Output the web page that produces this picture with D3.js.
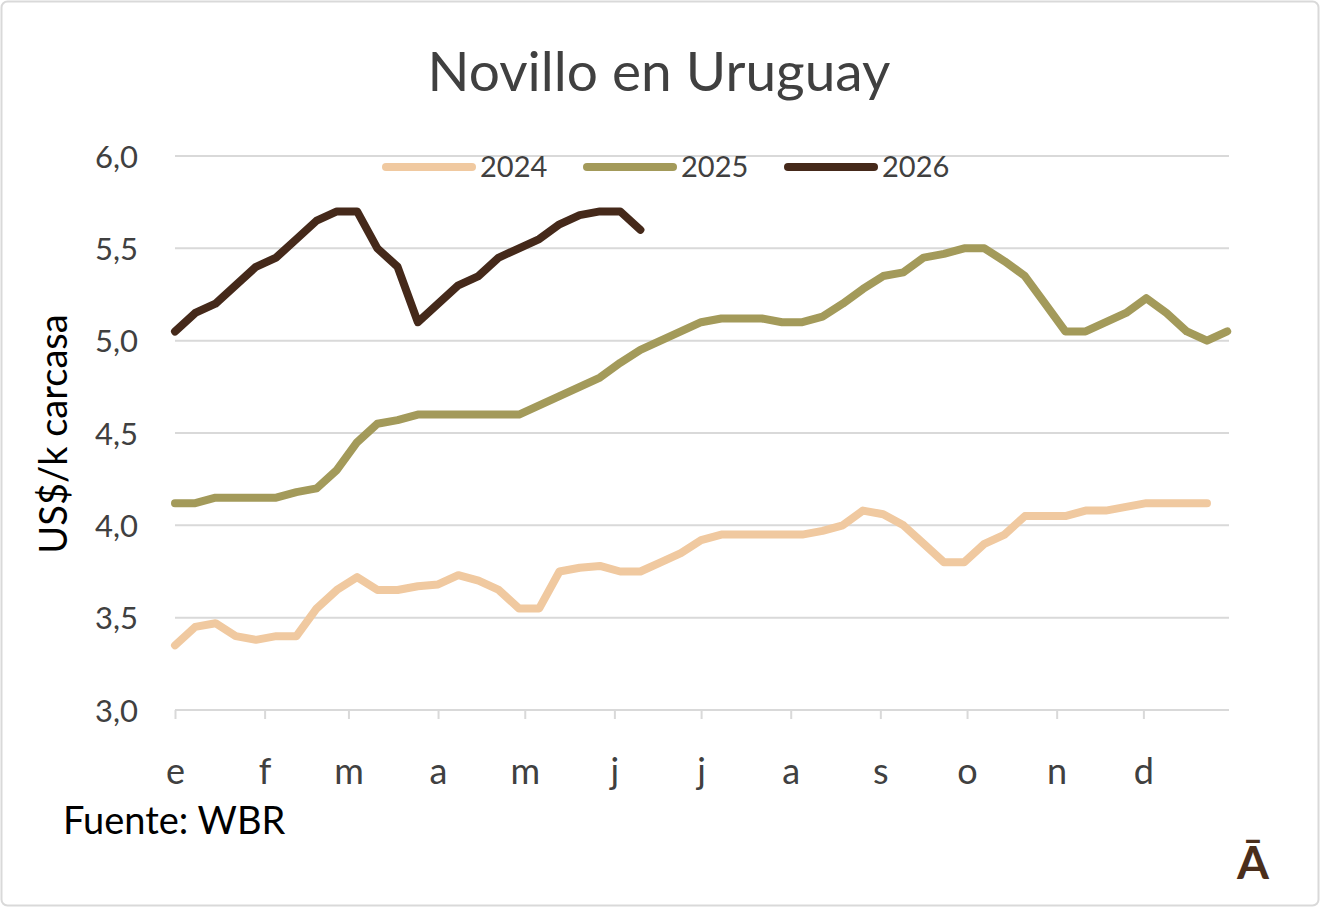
<!DOCTYPE html>
<html>
<head>
<meta charset="utf-8">
<script src="https://cdn.jsdelivr.net/npm/d3@7"></script>
<style>
  html, body { margin: 0; padding: 0; background: #fff; }
  #chart { width: 1320px; height: 907px; }
  text { font-family: Lato, "Open Sans", sans-serif; }
</style>
</head>
<body>
<div id="chart"></div>
<script>
// weekly prices, US$/k carcasa
const monthLabels = ["e", "f", "m", "a", "m", "j", "j", "a", "s", "o", "n", "d"];
const yTicks = [3.0, 3.5, 4.0, 4.5, 5.0, 5.5, 6.0];
const seriesNames = ["2024", "2025", "2026"];
const seriesColors = ["#f0c9a0", "#a39a5a", "#45291a"];

const s2024 = [3.35, 3.45, 3.47, 3.40, 3.38, 3.40, 3.40, 3.55, 3.65, 3.72,
    3.65, 3.65, 3.67, 3.68, 3.73, 3.70, 3.65, 3.55, 3.55, 3.75,
    3.77, 3.78, 3.75, 3.75, 3.80, 3.85, 3.92, 3.95, 3.95, 3.95,
    3.95, 3.95, 3.97, 4.00, 4.08, 4.06, 4.00, 3.90, 3.80, 3.80,
    3.90, 3.95, 4.05, 4.05, 4.05, 4.08, 4.08, 4.10, 4.12, 4.12,
    4.12, 4.12];
const s2025 = [4.12, 4.12, 4.15, 4.15, 4.15, 4.15, 4.18, 4.20, 4.30, 4.45,
    4.55, 4.57, 4.60, 4.60, 4.60, 4.60, 4.60, 4.60, 4.65, 4.70,
    4.75, 4.80, 4.88, 4.95, 5.00, 5.05, 5.10, 5.12, 5.12, 5.12,
    5.10, 5.10, 5.13, 5.20, 5.28, 5.35, 5.37, 5.45, 5.47, 5.50,
    5.50, 5.43, 5.35, 5.20, 5.05, 5.05, 5.10, 5.15, 5.23, 5.15,
    5.05, 5.00, 5.05];
const s2026 = [5.05, 5.15, 5.20, 5.30, 5.40, 5.45, 5.55, 5.65, 5.70, 5.70,
    5.50, 5.40, 5.10, 5.20, 5.30, 5.35, 5.45, 5.50, 5.55, 5.63,
    5.68, 5.70, 5.70, 5.60];

const width = 1320;
const height = 907;
const margin = {top: 156, right: 87, bottom: 197, left: 175};

const svg = d3.select("#chart")
    .append("svg")
    .attr("width", width)
    .attr("height", height);

// outer frame
svg.append("rect")
    .attr("x", 1.5).attr("y", 1.5)
    .attr("width", width - 3).attr("height", height - 3)
    .attr("rx", 6)
    .attr("fill", "#fff")
    .attr("stroke", "#d9d9d9")
    .attr("stroke-width", 2);

// x axis runs over one calendar year (days), weeks are placed on it
const yearStart = new Date(2024, 0, 1);
const yearEnd = new Date(2025, 0, 1);

const x = d3.scaleTime()
    .domain([yearStart, yearEnd])
    .range([margin.left, width - margin.right]);

const y = d3.scaleLinear()
    .domain([3, 6])
    .range([height - margin.bottom, margin.top]);

const weekDate = i => d3.timeDay.offset(yearStart, 7 * i);
const gridRight = 1229;

// gridlines
svg.append("g")
    .selectAll("line")
    .data(yTicks)
    .join("line")
    .attr("x1", margin.left)
    .attr("x2", gridRight)
    .attr("y1", d => y(d))
    .attr("y2", d => y(d))
    .attr("stroke", "#d9d9d9")
    .attr("stroke-width", 2);

// y axis
const yAxis = svg.append("g")
    .attr("class", "yAxis")
    .attr("transform", "translate(" + (margin.left - 37) + ",0)")
    .call(d3.axisLeft(y).tickValues(yTicks).tickSize(0).tickFormat(d => d3.format(".1f")(d).replace(".", ",")));
yAxis.select(".domain").remove();
yAxis.selectAll("text")
    .attr("x", 0)
    .attr("dy", "0.36em")
    .attr("fill", "#404040")
    .style("font-size", "31px")
    .style("font-family", "Lato");

// x axis
const months = d3.timeMonth.range(yearStart, yearEnd);
const xAxis = svg.append("g")
    .attr("class", "xAxis")
    .attr("transform", "translate(0," + y(3) + ")")
    .call(d3.axisBottom(x).tickValues(months).tickSize(9).tickFormat((d, i) => monthLabels[i]));
xAxis.select(".domain").remove();
xAxis.selectAll(".tick line")
    .attr("stroke", "#d9d9d9")
    .attr("stroke-width", 2);
xAxis.selectAll("text")
    .attr("y", 74)
    .attr("dy", 0)
    .attr("fill", "#404040")
    .style("font-size", "36px")
    .style("font-family", "Lato");

// axis title
svg.append("text")
    .attr("transform", "translate(67," + 434 + ") rotate(-90)")
    .attr("text-anchor", "middle")
    .attr("fill", "#000")
    .style("font-size", "38px")
    .text("US$/k carcasa");

// title
svg.append("text")
    .attr("x", 659)
    .attr("y", 91)
    .attr("text-anchor", "middle")
    .attr("fill", "#404040")
    .style("font-size", "55px")
    .text("Novillo en Uruguay");

// lines
const line = d3.line()
    .x((d, i) => x(weekDate(i)))
    .y(d => y(d));

const plot = svg.append("g").attr("id", "plot");
[s2024, s2025, s2026].forEach((s, k) => {
    plot.append("path")
        .datum(s)
        .attr("fill", "none")
        .attr("stroke", seriesColors[k])
        .attr("stroke-width", 8)
        .attr("stroke-linejoin", "round")
        .attr("stroke-linecap", "round")
        .attr("d", line);
});

// legend
const legendX = [386, 587, 788];
const legend = svg.append("g").attr("class", "legend");
seriesNames.forEach((name, k) => {
    legend.append("line")
        .attr("x1", legendX[k]).attr("x2", legendX[k] + 86)
        .attr("y1", 167).attr("y2", 167)
        .attr("stroke", seriesColors[k])
        .attr("stroke-width", 8)
        .attr("stroke-linecap", "round");
    legend.append("text")
        .attr("x", legendX[k] + 94)
        .attr("y", 167)
        .attr("dy", "0.36em")
        .attr("fill", "#404040")
        .style("font-size", "29px")
        .text(name);
});

// source
svg.append("text")
    .attr("x", 63)
    .attr("y", 834)
    .attr("fill", "#000")
    .style("font-size", "38px")
    .text("Fuente: WBR");

// logo
svg.append("text")
    .attr("x", 1253)
    .attr("y", 879)
    .attr("text-anchor", "middle")
    .attr("fill", "#4a2e1c")
    .style("font-size", "46px")
    .style("font-weight", "bold")
    .text("Ā");
</script>
</body>
</html>
